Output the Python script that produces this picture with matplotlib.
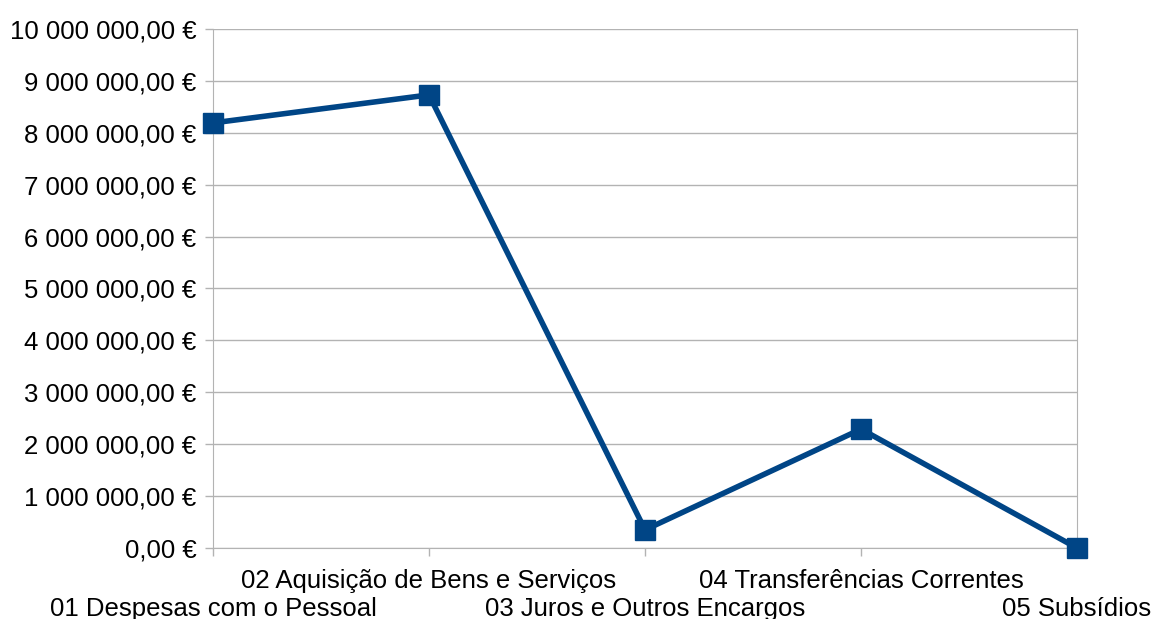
import matplotlib
matplotlib.use("Agg")
from matplotlib import pyplot as plt

# categorias e valores (euros)
categorias = ["01 Despesas com o Pessoal", "02 Aquisição de Bens e Serviços",
              "03 Juros e Outros Encargos", "04 Transferências Correntes",
              "05 Subsídios"]
valores = [8190000, 8730000, 350000, 2290000, 0]
yticks = list(range(0, 10000001, 1000000))

plt.rcParams['font.family'] = ['Liberation Sans', 'DejaVu Sans']

def fmt(v):
    s = f"{v:,.2f}".replace(",", " ").replace(".", ",")
    return s + " €"

fig = plt.figure(figsize=(11.55, 6.19), dpi=100)
ax = fig.add_axes([0.1844, 0.1147, 0.9325 - 0.1844, 0.9532 - 0.1147])

x = list(range(len(categorias)))
ax.plot(x, valores, color="#004586", linewidth=4, marker="s", markersize=14,
        clip_on=False, zorder=5)

ax.set_xlim(0, len(categorias) - 1)
ax.set_ylim(0, 10000000)
ax.set_yticks(yticks)
ax.set_yticklabels([fmt(v) for v in yticks], fontsize=18.5)
ax.yaxis.grid(True, color="#b3b3b3", linewidth=1)
ax.set_axisbelow(True)

ax.set_xticks(x)
ax.set_xticklabels(categorias, fontsize=18.5)
for i, t in enumerate(ax.xaxis.get_major_ticks()):
    t.set_pad(29 if i % 2 == 0 else 9)

for s in ["left", "right", "bottom"]:
    ax.spines[s].set_color("#b3b3b3")
ax.spines["top"].set_visible(False)
ax.tick_params(axis="both", color="#b3b3b3", length=6, width=1)
ax.tick_params(axis="y", pad=6)

fig.savefig("out.png", dpi=100)
